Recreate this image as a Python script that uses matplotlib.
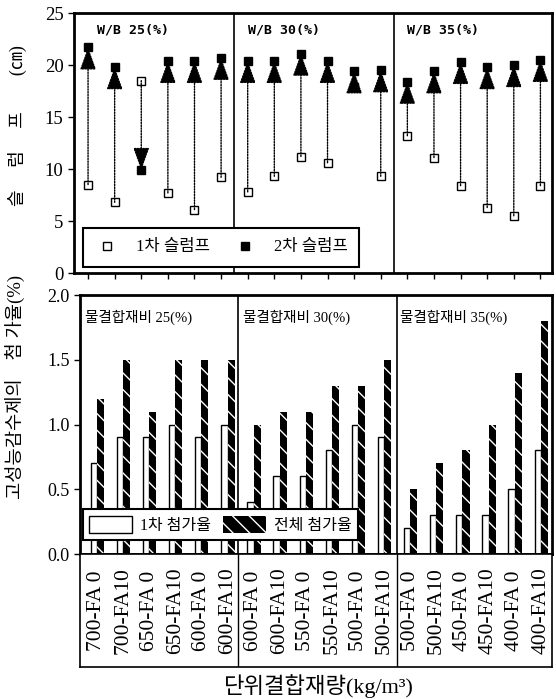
import matplotlib
matplotlib.use('Agg')
import matplotlib.pyplot as plt
from matplotlib.lines import Line2D
from matplotlib.patches import Patch
import numpy as np

KR = ['Liberation Serif', 'Noto Sans CJK KR']
plt.rcParams['font.family'] = KR
plt.rcParams['hatch.linewidth'] = 1.0

labels = ['700-FA 0', '700-FA10', '650-FA 0', '650-FA10', '600-FA 0', '600-FA10',
          '600-FA 0', '600-FA10', '550-FA 0', '550-FA10', '500-FA 0', '500-FA10',
          '500-FA 0', '500-FA10', '450-FA 0', '450-FA10', '400-FA 0', '400-FA10']

# slump (cm)
slump_1st = [8.5, 6.8, 18.5, 7.7, 6.1, 9.2,
             7.8, 9.3, 11.2, 10.6, 17.9, 9.3,
             13.2, 11.1, 8.4, 6.3, 5.5, 8.4]
slump_2nd = [21.7, 19.8, 9.9, 20.4, 20.4, 20.7,
             20.4, 20.4, 21.1, 20.4, 19.4, 19.5,
             18.4, 19.4, 20.3, 19.8, 20.0, 20.5]

# superplasticizer dosage (%)
dose_1st = [0.7, 0.9, 0.9, 1.0, 0.9, 1.0,
            0.4, 0.6, 0.6, 0.8, 1.0, 0.9,
            0.2, 0.3, 0.3, 0.3, 0.5, 0.8]
dose_total = [1.2, 1.5, 1.1, 1.5, 1.5, 1.5,
              1.0, 1.1, 1.1, 1.3, 1.3, 1.5,
              0.5, 0.7, 0.8, 1.0, 1.4, 1.8]

wb_top = ['W/B 25(%)', 'W/B 30(%)', 'W/B 35(%)']
wb_bot = ['물결합재비 25(%)', '물결합재비 30(%)', '물결합재비 35(%)']

x = np.arange(len(labels))

fig = plt.figure(figsize=(5.56, 6.99), dpi=100)

# ---- top: slump ----
ax1 = fig.add_axes([0.133, 0.6094, 0.86, 0.372])
ax1.plot(x, slump_1st, 's', ms=6, mfc='white', mec='black', mew=1.0, zorder=1.5)
for i in x:
    y1, y2 = slump_1st[i], slump_2nd[i]
    ax1.annotate('', xy=(i, y2), xytext=(i, y1),
                 arrowprops=dict(arrowstyle='-|>,head_length=1.0,head_width=0.36',
                                 mutation_scale=14, color='black', lw=1.0,
                                 linestyle=(0, (1, 1)), shrinkA=0, shrinkB=0),
                 zorder=2)
ax1.plot(x, slump_2nd, 's', ms=6, mfc='black', mec='black', zorder=3)
ax1.set_xlim(-0.53, 17.44)
ax1.set_ylim(0, 25)
ax1.set_yticks([0, 5, 10, 15, 20, 25])
ax1.set_xticks(x)
ax1.set_xticklabels([])
ax1.tick_params(axis='both', direction='out', length=4, width=1, labelsize=13.5)
for d in (5.5, 11.5):
    ax1.axvline(d, color='black', lw=1.2)
for g, tx in zip(wb_top, [0.34, 6.0, 12.0]):
    ax1.text(tx, 23.4, g, family='DejaVu Sans Mono', fontsize=9.5,
             fontweight='bold', va='center', ha='left')
for s in ax1.spines.values():
    s.set_linewidth(2)
h1 = [Line2D([], [], marker='s', ls='none', ms=6, mfc='white', mec='black'),
      Line2D([], [], marker='s', ls='none', ms=6, mfc='black', mec='black')]
leg1 = ax1.legend(h1, ['1차 슬럼프', '2차 슬럼프'], loc='lower left',
                  bbox_to_anchor=(0.019, 0.023), borderaxespad=0, ncol=2,
                  fancybox=False, edgecolor='black', framealpha=1,
                  fontsize=12, handlelength=1.5, handletextpad=1.0,
                  columnspacing=1.3, borderpad=0.7)
leg1.get_frame().set_linewidth(1.5)
fig.text(0.031, 0.82, '슬\u3000 럼\u3000 프\u3000\u3000(㎝)', rotation=90,
         ha='center', va='center', fontsize=13, family=KR)

# ---- bottom: dosage ----
ax2 = fig.add_axes([0.1439, 0.2074, 0.849, 0.3705])
w = 0.24
ax2.bar(x - w, dose_1st, width=w, align='edge', facecolor='white',
        edgecolor='black', lw=1.0, zorder=2)
ax2.bar(x, dose_total, width=w + 0.03, align='edge', facecolor='black',
        edgecolor='white', hatch='\\\\', lw=0, zorder=2)
ax2.set_xlim(-0.65, 17.43)
ax2.set_ylim(0, 2.0)
ax2.set_yticks([0.0, 0.5, 1.0, 1.5, 2.0])
ax2.set_yticklabels(['0.0', '0.5', '1.0', '1.5', '2.0'])
ax2.set_xticks([])
ax2.tick_params(axis='y', direction='out', length=4, width=1, labelsize=13)
for d in (5.42, 11.5):
    ax2.axvline(d, color='black', lw=1.2)
for g, tx in zip(wb_bot, [-0.45, 5.6, 11.6]):
    ax2.text(tx, 1.83, g, fontsize=10.5, va='center', ha='left', family=KR)
for s in ax2.spines.values():
    s.set_linewidth(2)
h2 = [Patch(facecolor='white', edgecolor='black', lw=1.0),
      Patch(facecolor='black', edgecolor='white', hatch='\\\\', lw=0)]
leg2 = ax2.legend(h2, ['1차 첨가율', '전체 첨가율'], loc='lower left',
                  bbox_to_anchor=(0.006, 0.054), borderaxespad=0, ncol=2,
                  fancybox=False, edgecolor='black', framealpha=1,
                  fontsize=11.5, handlelength=2.7, handleheight=1.3,
                  handletextpad=0.5, columnspacing=0.7, borderpad=0.4)
leg2.get_frame().set_linewidth(1.5)
fig.text(0.027, 0.447, '고성능감수제의\u3000첨 가율(%)', rotation=90,
         ha='center', va='center', fontsize=13.5, family=KR)

# ---- label box ----
ax3 = fig.add_axes([0.1439, 0.046, 0.849, 0.1614])
ax3.set_xlim(-0.65, 17.43)
ax3.set_ylim(0, 1)
ax3.set_xticks([])
ax3.set_yticks([])
for i, lab in enumerate(labels):
    ax3.text(i, 0.5, lab, rotation=90, ha='center', va='center',
             fontsize=15.5, family='Liberation Serif')
for d in (5.42, 11.5):
    ax3.axvline(d, color='black', lw=1.0)
for s in ax3.spines.values():
    s.set_linewidth(1.2)

fig.text(0.574, 0.019, '단위결합재량(kg/m³)', ha='center', va='center',
         fontsize=16, family=KR)

fig.savefig('out.png', dpi=100)
